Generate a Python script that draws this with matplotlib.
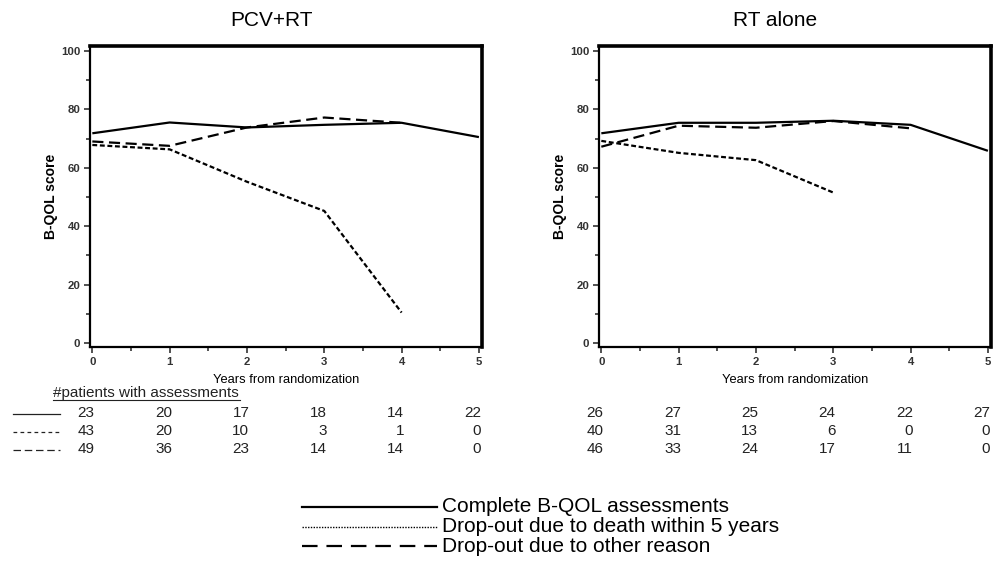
import numpy as np
import matplotlib.pyplot as plt
from matplotlib.lines import Line2D
from matplotlib.ticker import MultipleLocator
from matplotlib.transforms import blended_transform_factory

plt.rcParams['font.family'] = ['Liberation Sans', 'DejaVu Sans']

years = [0, 1, 2, 3, 4, 5]

# B-QOL scores, PCV+RT
pcv_complete = [71.8, 75.5, 73.8, 74.7, 75.4, 70.5]
pcv_death = [67.8, 66.3, 55.2, 45.2, 10.4, np.nan]
pcv_other = [69.0, 67.5, 73.8, 77.2, 75.4, np.nan]

# B-QOL scores, RT alone
rt_complete = [71.8, 75.4, 75.4, 76.1, 74.7, 65.8]
rt_death = [69.2, 65.1, 62.6, 51.5, np.nan, np.nan]
rt_other = [67.2, 74.4, 73.7, 76.0, 73.5, np.nan]

# patients with assessments
pcv_n_complete = [23, 20, 17, 18, 14, 22]
pcv_n_death = [43, 20, 10, 3, 1, 0]
pcv_n_other = [49, 36, 23, 14, 14, 0]
rt_n_complete = [26, 27, 25, 24, 22, 27]
rt_n_death = [40, 31, 13, 6, 0, 0]
rt_n_other = [46, 33, 24, 17, 11, 0]

legend_labels = ['Complete B-QOL assessments',
                 'Drop-out due to death within 5 years',
                 'Drop-out due to other reason']

W, H = 999, 579
fig = plt.figure(figsize=(W / 100, H / 100), dpi=100)
fig.patch.set_facecolor('white')


def fx(px):
    return px / W


def fy(py):
    return 1 - py / H


def panel(left_px, title, title_x, complete, death, other, counts):
    ax = fig.add_axes([fx(left_px), fy(347), 392 / W, (347 - 46) / H])
    ax.plot(years, complete, color='black', lw=1.6, solid_capstyle='butt')
    ax.plot(years, death, color='black', lw=1.6, dashes=(2.2, 1.2))
    ax.plot(years, other, color='black', lw=1.6, dashes=(5, 2.5))
    ax.set_xlim(-0.03, 5.04)
    ax.set_ylim(-1.4, 101.7)
    ax.xaxis.set_major_locator(MultipleLocator(1))
    ax.xaxis.set_minor_locator(MultipleLocator(0.5))
    ax.yaxis.set_major_locator(MultipleLocator(20))
    ax.yaxis.set_minor_locator(MultipleLocator(10))
    ax.tick_params(which='both', direction='out', color='#333', width=1.2)
    ax.tick_params(which='major', length=4, labelsize=8.2, labelcolor='#333', pad=3)
    ax.tick_params(which='minor', length=3)
    for lab in ax.get_xticklabels() + ax.get_yticklabels():
        lab.set_fontweight('bold')
    ax.spines['left'].set_linewidth(1.6)
    ax.spines['bottom'].set_linewidth(1.6)
    ax.spines['top'].set_linewidth(2.6)
    ax.spines['right'].set_linewidth(2.6)
    ax.set_xlabel('Years from randomization', fontsize=9.3, labelpad=5)
    ax.set_ylabel('B-QOL score', fontsize=10, fontweight='bold', labelpad=2)
    fig.text(fx(title_x), fy(20), title, fontsize=15, ha='center', va='center')

    # table of patient counts under the x-axis
    tr = blended_transform_factory(ax.transData, fig.transFigure)
    for row, ypx in zip(counts, [413, 431, 449]):
        for x, n in zip(years, row):
            ax.text(x + 0.03, fy(ypx), str(n), transform=tr, fontsize=11,
                    ha='right', va='center', color='#222')
    return ax


panel(90, 'PCV+RT', 272, pcv_complete, pcv_death, pcv_other,
      [pcv_n_complete, pcv_n_death, pcv_n_other])
panel(599, 'RT alone', 775, rt_complete, rt_death, rt_other,
      [rt_n_complete, rt_n_death, rt_n_other])

# table header and row samples
fig.text(fx(53), fy(393), '#patients with assessments', fontsize=11,
         ha='left', va='center', color='#222')
fig.add_artist(Line2D([fx(53), fx(240)], [fy(400), fy(400)], color='#222', lw=0.8))
fig.add_artist(Line2D([fx(13), fx(60)], [fy(414), fy(414)], color='#222', lw=0.9))
fig.add_artist(Line2D([fx(13), fx(60)], [fy(432), fy(432)], color='#222', lw=0.9,
                      dashes=(3, 2.6)))
fig.add_artist(Line2D([fx(13), fx(60)], [fy(450), fy(450)], color='#222', lw=0.9,
                      dashes=(6, 3)))

# legend at the bottom
styles = [dict(lw=1.6), dict(lw=1.0, dashes=(1, 1)), dict(lw=1.6, dashes=(7, 4))]
for lab, st, ypx in zip(legend_labels, styles, [507, 527, 546]):
    fig.add_artist(Line2D([fx(302), fx(437)], [fy(ypx), fy(ypx)], color='black', **st))
    fig.text(fx(442), fy(ypx), lab, fontsize=15, ha='left', va='center')

plt.savefig('out.png', dpi=100)
